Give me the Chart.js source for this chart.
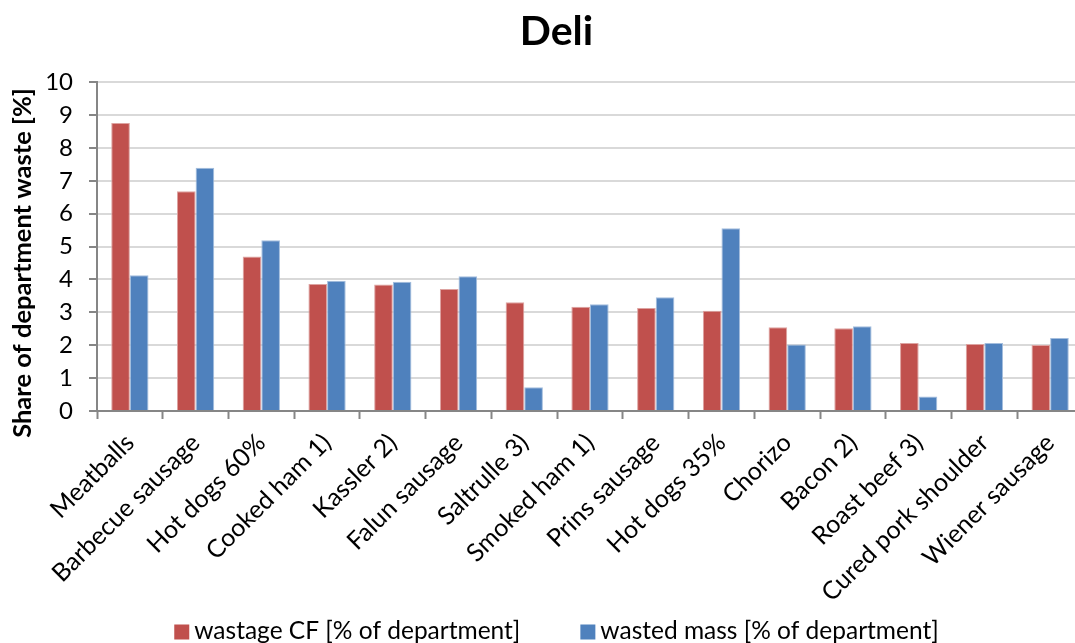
<!DOCTYPE html>
<html>
<head>
<meta charset="utf-8">
<script src="https://cdn.jsdelivr.net/npm/chart.js@4.4.1/dist/chart.umd.min.js"></script>
<style>
  html, body { margin: 0; padding: 0; background: #ffffff; overflow: hidden; }
  #wrap { width: 1113px; height: 643px; }
</style>
</head>
<body>
<div id="wrap"><canvas id="chart" width="1113" height="643"></canvas></div>
<script>
// Deli department: share of waste per product
const chartTitle = 'Deli';
const yAxisTitle = 'Share of department waste [%]';
const categories = [
  'Meatballs', 'Barbecue sausage', 'Hot dogs 60%', 'Cooked ham 1)', 'Kassler 2)',
  'Falun sausage', 'Saltrulle 3)', 'Smoked ham 1)', 'Prins sausage', 'Hot dogs 35%',
  'Chorizo', 'Bacon 2)', 'Roast beef 3)', 'Cured pork shoulder', 'Wiener sausage'
];
const seriesNames = ['wastage CF [% of department]', 'wasted mass [% of department]'];
const wastageCF  = [8.76, 6.68, 4.70, 3.86, 3.85, 3.71, 3.31, 3.17, 3.13, 3.05, 2.55, 2.52, 2.07, 2.04, 2.01];
const wastedMass = [4.13, 7.40, 5.19, 3.96, 3.93, 4.10, 0.72, 3.25, 3.46, 5.56, 2.02, 2.58, 0.44, 2.07, 2.22];
const yMin = 0, yMax = 10, yStep = 1;

const FONT = 'Lato, "Open Sans", sans-serif';
const RED = '#C0504D', BLUE = '#4F81BD';
const AXIS = '#868686', GRID = '#D9D9D9';

// Rotated, bold value-axis caption
const yTitlePlugin = {
  id: 'yTitle',
  afterDraw(chart) {
    const ctx = chart.ctx;
    ctx.save();
    ctx.translate(23, 263);
    ctx.rotate(-Math.PI / 2);
    ctx.font = 'bold 25.5px ' + FONT;
    ctx.fillStyle = '#000';
    ctx.textAlign = 'center';
    ctx.textBaseline = 'middle';
    ctx.fillText(yAxisTitle, 0, 0);
    ctx.restore();
  }
};

// Legend row centred under the chart
const legendPlugin = {
  id: 'bottomLegend',
  afterDraw(chart) {
    const ctx = chart.ctx;
    const box = 15, gapText = 5, gapItem = 60, cy = 631;
    ctx.save();
    ctx.font = '24.5px ' + FONT;
    const items = chart.data.datasets.map(ds => ({
      label: ds.label, color: ds.backgroundColor, w: ctx.measureText(ds.label).width
    }));
    const total = items.reduce((s, it) => s + box + gapText + it.w, 0) + gapItem * (items.length - 1);
    let x = chart.width / 2 - total / 2;
    ctx.textBaseline = 'middle';
    ctx.textAlign = 'left';
    items.forEach(it => {
      ctx.fillStyle = it.color;
      ctx.fillRect(x, cy - box / 2 + 1, box, box);
      ctx.fillStyle = '#000';
      ctx.fillText(it.label, x + box + gapText, cy);
      x += box + gapText + it.w + gapItem;
    });
    ctx.restore();
  }
};

new Chart(document.getElementById('chart'), {
  type: 'bar',
  data: {
    labels: categories,
    datasets: [
      { label: seriesNames[0], data: wastageCF, backgroundColor: RED, borderColor: '#DDA3A1', borderWidth: 1 },
      { label: seriesNames[1], data: wastedMass, backgroundColor: BLUE, borderColor: '#A3BDDD', borderWidth: 1 }
    ]
  },
  options: {
    responsive: false,
    animation: false,
    categoryPercentage: 0.567,
    barPercentage: 1.0,
    layout: { padding: { top: 0, right: 30, bottom: 40, left: 30 } },
    plugins: {
      legend: { display: false },
      tooltip: { enabled: false },
      title: {
        display: true,
        text: chartTitle,
        color: '#000',
        font: { family: FONT, size: 41, weight: 'bold' },
        padding: { top: 7, bottom: 26 }
      }
    },
    scales: {
      x: {
        grid: {
          offset: true, drawOnChartArea: false, drawTicks: true,
          tickLength: 8, tickColor: AXIS, tickWidth: 2
        },
        border: { display: true, color: AXIS, width: 2 },
        ticks: {
          color: '#000', font: { family: FONT, size: 25 },
          minRotation: 45, maxRotation: 45, autoSkip: false, padding: 9
        },
        afterFit(scale) { scale.height = 643 - 40 - 411; }
      },
      y: {
        min: yMin, max: yMax,
        grid: { color: GRID, lineWidth: 2, tickLength: 8, tickColor: AXIS, tickWidth: 2 },
        border: { display: true, color: AXIS, width: 2 },
        ticks: { stepSize: yStep, color: '#000', font: { family: FONT, size: 24 }, padding: 16 },
        afterFit(scale) { scale.width = 67; }
      }
    }
  },
  plugins: [yTitlePlugin, legendPlugin]
});
</script>
</body>
</html>
